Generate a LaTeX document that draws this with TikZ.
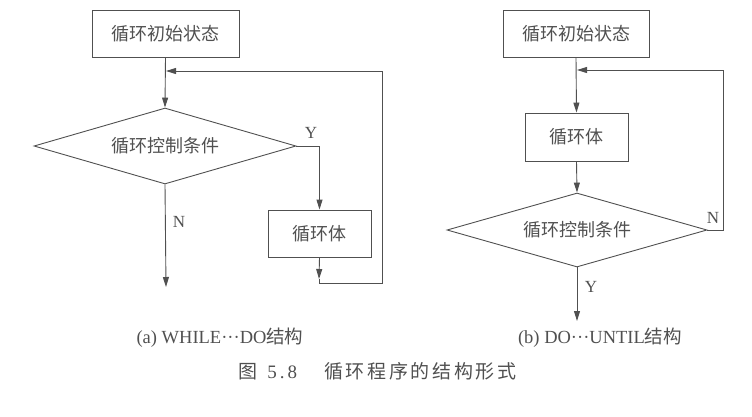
\documentclass[tikz,border=0pt]{standalone}
\usepackage{fontspec}
\setmainfont{Liberation Serif}
\newfontfamily\cjk{Noto Sans CJK SC}
\newfontfamily\cjkwide{Noto Sans CJK SC}[LetterSpace=14]
\usetikzlibrary{shapes.geometric,arrows.meta}
\definecolor{ink}{HTML}{505050}
\tikzset{
  box/.style={draw=ink, line width=0.9pt, rectangle, inner sep=0pt, text=ink, font=\cjk\fontsize{18}{20}\selectfont},
  cond/.style={draw=ink, line width=0.9pt, diamond, aspect=3.45, inner sep=0pt, text=ink, font=\cjk\fontsize{18}{20}\selectfont},
  lbl/.style={text=ink, font=\fontsize{17}{19}\selectfont, inner sep=0pt},
  caption/.style={text=ink, font=\fontsize{18.5}{20}\selectfont, inner sep=0pt},
  arr/.style={draw=ink, line width=0.9pt, -{Triangle[length=10pt,width=6pt]}},
  ln/.style={draw=ink, line width=0.9pt},
}
\newcommand{\mdots}{\textperiodcentered\textperiodcentered\textperiodcentered}
\begin{document}
\begin{tikzpicture}[x=1pt,y=-1pt]
\useasboundingbox (0,0) rectangle (752,416);
% (a) WHILE...DO
\node[box, minimum width=147pt, minimum height=47pt] (ainit) at (165.5,33.5) {循环初始状态};
\node[cond, minimum width=262pt, minimum height=76pt] (acond) at (165,146) {循环控制条件};
\node[box, minimum width=103pt, minimum height=47pt] (abody) at (319.5,233.5) {循环体};
\coordinate (aj) at (166,71);
\coordinate (aend) at (166,287);
\coordinate (ad) at (319,279);
\coordinate (ar1) at (319,283);
\coordinate (ar2) at (382,283);
\coordinate (ar3) at (382,71);
\draw[arr] (ainit.south) -- (acond.north);
\draw[arr] (acond.east) -| (abody.north);
\draw[arr] (acond.south) -- (aend);
\draw[arr] (abody.south) -- (ad);
\draw[ln] (ad) -- (ar1) -- (ar2) -- (ar3);
\draw[arr] (ar3) -- (aj);
\node[lbl] (ay) at (311,133) {Y};
\node[lbl] (an) at (179,222) {N};
% (b) DO...UNTIL
\node[box, minimum width=146pt, minimum height=47pt] (binit) at (576,33.5) {循环初始状态};
\node[box, minimum width=103pt, minimum height=48pt] (bbody) at (576.5,137) {循环体};
\node[cond, minimum width=260pt, minimum height=74pt] (bcond) at (577,230) {循环控制条件};
\coordinate (bj) at (577,70);
\coordinate (br1) at (723,230);
\coordinate (br2) at (723,70);
\coordinate (bend) at (577,321);
\draw[arr] (binit.south) -- (bbody.north);
\draw[arr] (bbody.south) -- (bcond.north);
\draw[ln] (bcond.east) -- (br1) -- (br2);
\draw[arr] (br2) -- (bj);
\draw[arr] (bcond.south) -- (bend);
\node[lbl] (bn) at (713,218) {N};
\node[lbl] (by) at (591,287) {Y};
% captions
\node[caption] (capa) at (220,338) {(a) WHILE\mdots DO{\cjk 结构}};
\node[caption] (capb) at (600,338) {(b) DO\mdots UNTIL{\cjk 结构}};
\node[caption, font=\fontsize{19}{21}\selectfont] (fig) at (377.5,371) {{\cjk 图}\hspace{10pt}5\hspace{3pt}.\hspace{3pt}8\hspace{27pt}{\cjkwide 循环程序的结构形式}};
\end{tikzpicture}
\end{document}
